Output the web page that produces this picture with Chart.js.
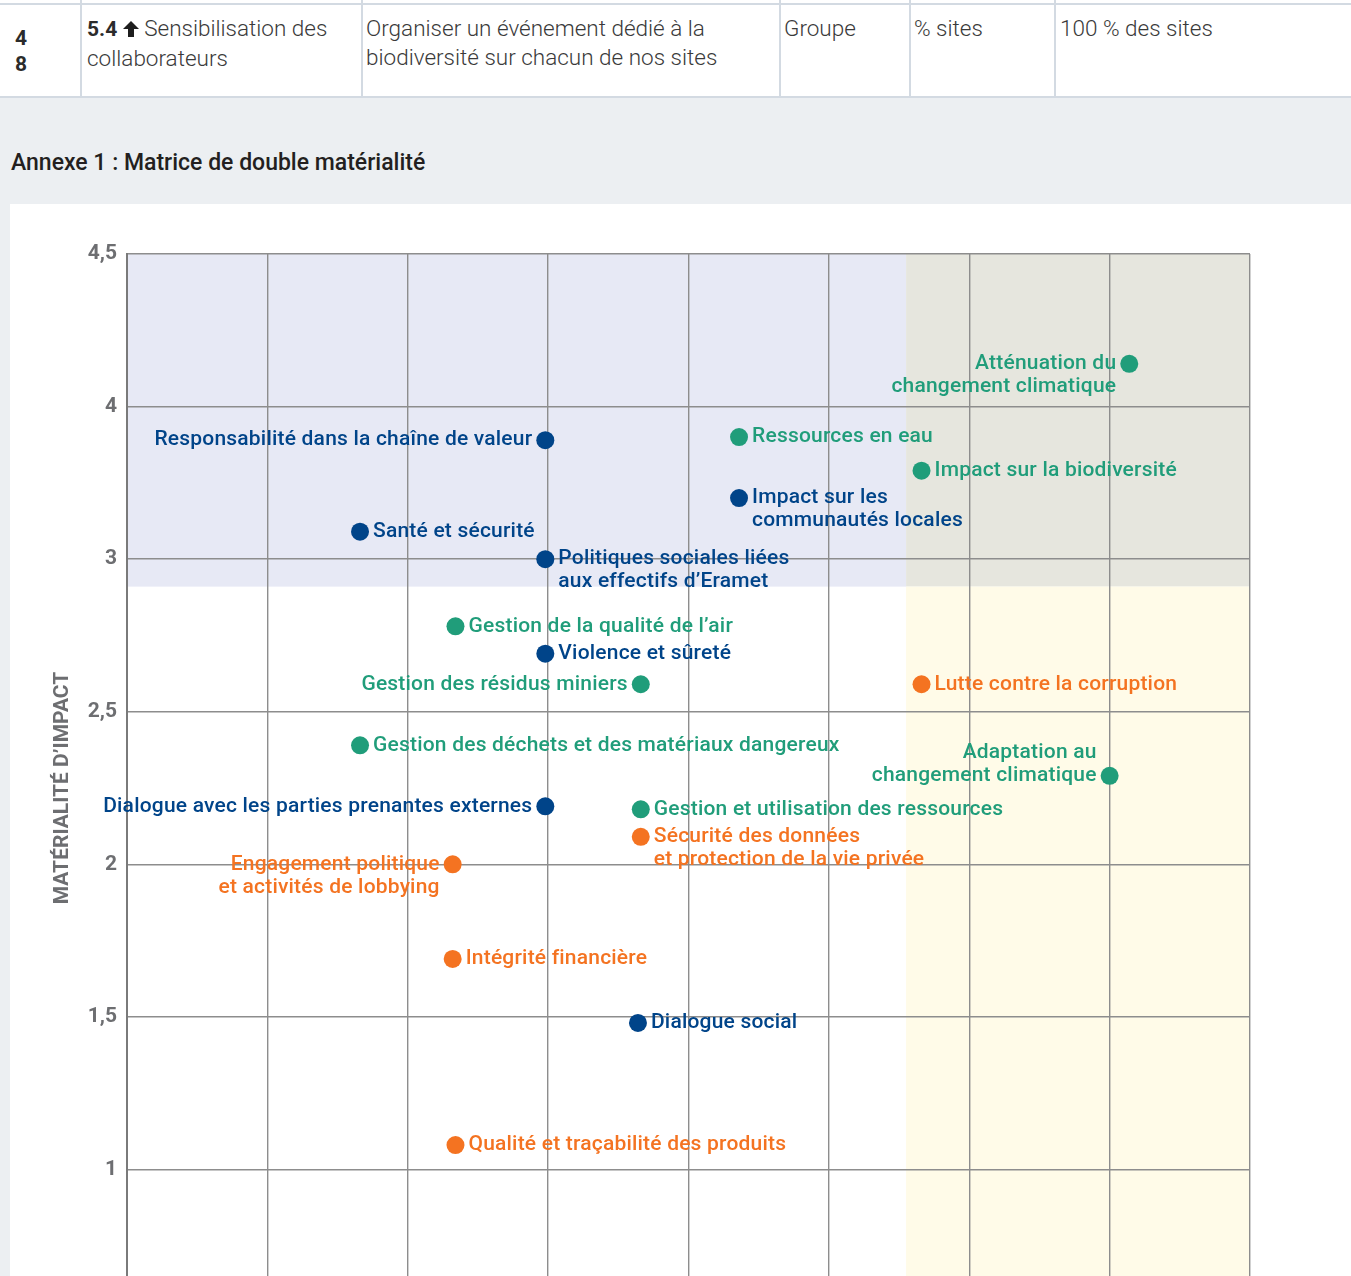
<!DOCTYPE html>
<html>
<head>
<meta charset="utf-8">
<script src="https://cdn.jsdelivr.net/npm/chart.js@4.4.1/dist/chart.umd.min.js"></script>
<style>
html, body { margin: 0; padding: 0; overflow: hidden; background: #eceff2; }
body { width: 1351px; height: 1276px; position: relative; font-family: Roboto, "Noto Sans", sans-serif; color: #3a3a3a; }
.row { position: absolute; left: 0; top: 0; width: 1351px; height: 97px; background: #fff; }
.hline { position: absolute; left: 0; width: 1351px; height: 1.5px; background: #d3dae2; }
.vline { position: absolute; top: 0; width: 1.5px; height: 97px; background: #d3dae2; }
.cell { position: absolute; top: 14px; font-size: 22.5px; font-weight: 300; line-height: 29px; }
.num { position: absolute; left: 15px; top: 25px; font-size: 21px; font-weight: 700; line-height: 26px; color: #2b2b2b; }
.cell b { font-weight: 700; color: #2b2b2b; font-size: 21px; }
h3 { position: absolute; left: 11px; top: 148px; margin: 0; font-size: 23px; font-weight: 500; color: #231f20; line-height: 30px; }
#panel { position: absolute; left: 10px; top: 204px; width: 1341px; height: 1160px; background: #fff; }
</style>
</head>
<body>
<div class="row">
  <div class="hline" style="top:3px"></div>
  <div class="hline" style="top:96px"></div>
  <div class="vline" style="left:80px"></div>
  <div class="vline" style="left:361px"></div>
  <div class="vline" style="left:779px"></div>
  <div class="vline" style="left:909px"></div>
  <div class="vline" style="left:1054px"></div>
  <div class="num">4<br>8</div>
  <div class="cell" style="left:87px"><b>5.4</b> <svg width="16" height="16" viewBox="0 0 16 16" style="vertical-align:-1px"><polygon points="8,0 16,8 11,8 11,16 5,16 5,8 0,8" fill="#1e1e1e"/></svg> Sensibilisation des<br>collaborateurs</div>
  <div class="cell" style="left:366px">Organiser un événement dédié à la<br>biodiversité sur chacun de nos sites</div>
  <div class="cell" style="left:784px">Groupe</div>
  <div class="cell" style="left:914px">% sites</div>
  <div class="cell" style="left:1060px">100 % des sites</div>
</div>
<h3>Annexe 1 : Matrice de double matérialité</h3>
<div id="panel"><canvas id="matrix"></canvas></div>
<script>
// Enjeux de la matrice (x = matérialité financière, y = matérialité d'impact)
const topics = [
  'Atténuation du\nchangement climatique',
  'Responsabilité dans la chaîne de valeur',
  'Ressources en eau',
  'Impact sur la biodiversité',
  'Impact sur les\ncommunautés locales',
  'Santé et sécurité',
  'Politiques sociales liées\naux effectifs d’Eramet',
  'Gestion de la qualité de l’air',
  'Violence et sûreté',
  'Gestion des résidus miniers',
  'Lutte contre la corruption',
  'Gestion des déchets et des matériaux dangereux',
  'Adaptation au\nchangement climatique',
  'Dialogue avec les parties prenantes externes',
  'Gestion et utilisation des ressources',
  'Sécurité des données\net protection de la vie privée',
  'Engagement politique\net activités de lobbying',
  'Intégrité financière',
  'Dialogue social',
  'Qualité et traçabilité des produits'
];
const pillar = ['E','S','E','E','S','S','S','E','S','E','G','E','E','S','E','G','G','G','S','G'];
const financial = [4.57, 2.49, 3.18, 3.83, 3.18, 1.83, 2.49, 2.17, 2.49, 2.83, 3.83, 1.83, 4.50, 2.49, 2.83, 2.83, 2.16, 2.16, 2.82, 2.17];
const impact    = [3.64, 3.39, 3.40, 3.29, 3.20, 3.09, 3.00, 2.78, 2.69, 2.59, 2.59, 2.39, 2.29, 2.19, 2.18, 2.09, 2.00, 1.69, 1.48, 1.08];
// which side of the dot the label goes
const labelSide = ['left','left','right','right','right','right','right','right','right','left',
                   'right','right','leftUp','left','right','right','left','right','right','right'];

// y axis tick labels as printed on the matrix
const yTickValues = [1, 1.5, 2, 2.5, 3, 3.5, 4];
const yTickText   = ['1', '1,5', '2', '2,5', '3', '4', '4,5'];

// shaded zones [xMin, xMax, yMin, yMax, colour]
const zones = [
  [1, 3.775, 2.91, 4, '#e7e9f5'],
  [3.775, 5, 2.91, 4, '#e6e6de'],
  [3.775, 5, 0.5, 2.91, '#fffbe8']
];

const pillarColor = { E: '#209d7a', S: '#004489', G: '#f47321' };

function pillarData(p) {
  const pts = [];
  topics.forEach((t, i) => {
    if (pillar[i] === p) pts.push({ x: financial[i], y: impact[i], i: i });
  });
  return pts;
}

const zonePlugin = {
  id: 'zones',
  beforeDraw(chart) {
    const { ctx, scales: { x, y } } = chart;
    ctx.save();
    zones.forEach(z => {
      const x0 = x.getPixelForValue(z[0]), x1 = x.getPixelForValue(z[1]);
      const y0 = y.getPixelForValue(z[3]), y1 = y.getPixelForValue(z[2]);
      ctx.fillStyle = z[4];
      ctx.fillRect(x0, y0, x1 - x0, y1 - y0);
    });
    ctx.restore();
  }
};

const labelPlugin = {
  id: 'topicLabels',
  afterDatasetsDraw(chart) {
    const ctx = chart.ctx;
    ctx.save();
    ctx.font = '500 21px Roboto';
    ctx.letterSpacing = '0.2px';
    ctx.textBaseline = 'middle';
    chart.data.datasets.forEach((ds, d) => {
      const meta = chart.getDatasetMeta(d);
      meta.data.forEach((el, j) => {
        const idx = ds.data[j].i;
        const lines = topics[idx].split('\n');
        const side = labelSide[idx];
        ctx.fillStyle = ds.backgroundColor;
        ctx.textAlign = side === 'right' ? 'left' : 'right';
        const tx = side === 'right' ? el.x + 13 : el.x - 13;
        const start = side === 'leftUp' ? el.y - (lines.length - 1) * 23 : el.y;
        lines.forEach((ln, k) => ctx.fillText(ln, tx, start + k * 23));
      });
    });
    ctx.restore();
  }
};

new Chart(document.getElementById('matrix'), {
  type: 'scatter',
  data: {
    datasets: [
      { label: 'Environnement', data: pillarData('E'), backgroundColor: pillarColor.E },
      { label: 'Social', data: pillarData('S'), backgroundColor: pillarColor.S },
      { label: 'Gouvernance', data: pillarData('G'), backgroundColor: pillarColor.G }
    ]
  },
  options: {
    responsive: true,
    maintainAspectRatio: false,
    animation: false,
    events: [],
    layout: { padding: { left: 0, top: 50, right: 101, bottom: 42 } },
    elements: { point: { radius: 9, borderWidth: 0 } },
    plugins: { legend: { display: false }, tooltip: { enabled: false } },
    scales: {
      x: {
        type: 'linear', min: 1, max: 5,
        ticks: { stepSize: 0.5, display: false },
        grid: { color: '#8d8d8d', lineWidth: 1.4, drawTicks: false },
        border: { display: false },
        afterFit(s) { s.height = 0; }
      },
      y: {
        type: 'linear', min: 0.5, max: 4,
        ticks: {
          stepSize: 0.5, padding: 10, color: '#6d6e71',
          font: { family: 'Roboto', size: 21, weight: 'bold' },
          callback: v => { const k = yTickValues.indexOf(v); return k < 0 ? '' : yTickText[k]; }
        },
        grid: { color: '#8d8d8d', lineWidth: 1.4, drawTicks: false },
        border: { color: '#7a7a7a', width: 2 },
        title: {
          display: true, text: 'MATÉRIALITÉ D’IMPACT', color: '#6d6e71',
          font: { family: 'Roboto', size: 21, weight: 'bold' },
          padding: { top: 40, bottom: 0 }
        },
        afterFit(s) { s.width = 117; }
      }
    }
  },
  plugins: [zonePlugin, labelPlugin]
});
</script>
</body>
</html>
